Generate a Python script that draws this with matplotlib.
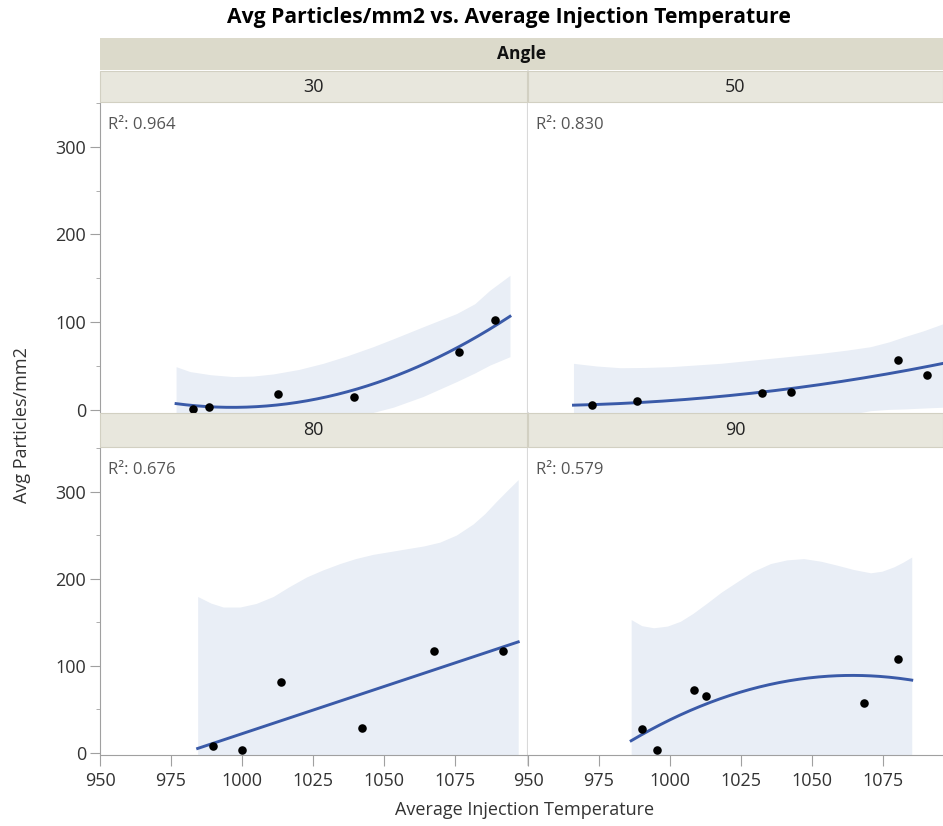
import numpy as np
import matplotlib.pyplot as plt
from matplotlib.patches import Rectangle
from matplotlib.lines import Line2D

plt.rcParams['font.family'] = ['Open Sans', 'DejaVu Sans']

# --------- data -----------------------------
angles = ["30", "50", "80", "90"]
r2_values = ["0.964", "0.830", "0.676", "0.579"]
fit_degree = [2, 2, 1, 2]

temp_30 = [982.6, 988.4, 1012.6, 1039.4, 1076.4, 1089.2]
part_30 = [0.5, 3.0, 18.5, 15.0, 65.5, 102.0]
temp_50 = [972.5, 988.4, 1032.4, 1042.4, 1080.3, 1090.2]
part_50 = [5.7, 9.5, 19.0, 20.5, 56.8, 39.4]
temp_80 = [989.7, 1000.1, 1013.6, 1042.4, 1067.6, 1092.1]
part_80 = [7.6, 3.0, 81.3, 28.3, 117.0, 117.0]
temp_90 = [990.2, 995.4, 1008.3, 1012.5, 1068.1, 1080.3]
part_90 = [27.2, 3.0, 71.8, 65.0, 57.4, 107.7]

# shaded band edges
band_x_30 = [976.8, 981.7, 989.0, 996.9, 1004.0, 1011.0, 1020.0, 1028.6, 1037.0, 1046.2, 1053.3,
             1063.8, 1075.6, 1082.0, 1087.3, 1094.4]
band_hi_30 = [49.2, 43.6, 40.0, 37.9, 38.5, 40.9, 46.0, 53.0, 61.5, 72.0, 81.0,
              94.7, 109.8, 121.0, 136.4, 153.4]
band_lo_30 = [-45, -40, -36, -32, -28, -25, -20, -14, -9, -3, 3,
              15.2, 32.2, 42.0, 51.0, 60.6]

band_x_50 = [966.0, 974.0, 982.5, 991.0, 1000.1, 1017.7, 1035.3, 1052.9, 1062.0, 1070.5, 1077.0,
             1082.3, 1089.0, 1096.3]
band_hi_50 = [53.0, 50.0, 48.0, 48.3, 49.2, 53.0, 58.7, 64.4, 68.0, 72.0, 77.5,
              83.3, 90.0, 98.5]
band_lo_50 = [-45, -42, -40, -37, -35, -28, -20, -12, -6, -1, 0.5, 1, 2, 3]

band_x_80 = [984.4, 989.0, 993.4, 999.3, 1005.0, 1011.0, 1016.5, 1022.8, 1028.5, 1034.5, 1040.0,
             1046.2, 1052.0, 1058.0, 1064.0, 1069.7, 1075.5, 1081.4, 1085.5, 1089.7, 1093.5, 1097.3]
band_hi_80 = [179.5, 172.0, 167.4, 167.4, 171.5, 179.5, 190.5, 202.0, 210.0, 217.3, 223.0,
              227.9, 231.0, 234.3, 237.5, 241.9, 250.0, 262.7, 274.5, 289.0, 301.5, 313.7]
band_lo_80 = [-170, -160, -150, -140, -135, -130, -125, -120, -115, -110, -105,
              -100, -97, -95, -92, -90, -92, -95, -100, -105, -112, -120]

band_x_90 = [986.3, 990.0, 994.2, 999.0, 1003.6, 1008.0, 1013.0, 1018.0, 1023.6, 1029.0, 1035.3,
             1041.0, 1047.0, 1053.0, 1058.8, 1064.5, 1070.5, 1074.5, 1078.7, 1082.0, 1085.0]
band_hi_90 = [153.0, 146.0, 143.6, 145.5, 151.0, 160.0, 172.0, 184.5, 196.5, 208.0, 217.3,
              221.5, 223.0, 220.0, 215.4, 210.5, 206.7, 208.5, 213.5, 219.0, 224.8]
band_lo_90 = [-130, -120, -110, -100, -90, -85, -80, -75, -70, -65, -60,
              -57, -55, -57, -60, -65, -70, -75, -80, -85, -90]

temps = [temp_30, temp_50, temp_80, temp_90]
parts = [part_30, part_50, part_80, part_90]
band_xs = [band_x_30, band_x_50, band_x_80, band_x_90]
band_his = [band_hi_30, band_hi_50, band_hi_80, band_hi_90]
band_los = [band_lo_30, band_lo_50, band_lo_80, band_lo_90]

# --------- styling ----------
W, H = 943, 826
BAND = "#e9eef6"
LINE = "#3a5aa8"
STRIP1 = "#dcdacb"
STRIP2 = "#e8e7dd"
STRIP_EDGE = "#d2d0c2"
DIVIDER = "#d9d9d9"
AXIS = "#a0a0a0"
TXT = "#333333"

fig = plt.figure(figsize=(W / 100, H / 100), dpi=100)


def frect(x0, y0, x1, y1):
    # pixel box (top-left origin) -> figure fraction rect
    return [x0 / W, 1 - y1 / H, (x1 - x0) / W, (y1 - y0) / H]


cols = [(100, 527), (528, 943)]
rows = [(103, 412), (448, 755)]
xlims = [(950, 1100.4), (950, 1096)]

for i, ang in enumerate(angles):
    r, c = divmod(i, 2)
    ax = fig.add_axes(frect(cols[c][0], rows[r][0], cols[c][1], rows[r][1]))
    ax.set_xlim(*xlims[c])
    ax.set_ylim(-2.5, 350)

    bx = np.array(band_xs[i])
    ax.fill_between(bx, band_los[i], band_his[i], color=BAND, lw=0, zorder=1)

    coef = np.polyfit(temps[i], parts[i], fit_degree[i])
    xs = np.linspace(bx[0], bx[-1], 200)
    ax.plot(xs, np.polyval(coef, xs), color=LINE, lw=2.1, zorder=2)

    ax.scatter(temps[i], parts[i], s=38, color="black", zorder=3, linewidths=0)

    ax.annotate(f"R\u00b2: {r2_values[i]}", xy=(0, 1), xycoords="axes fraction",
                xytext=(8, -22), textcoords="offset pixels", va="center", ha="left",
                fontsize=12, color="#555555")

    for s in ax.spines.values():
        s.set_visible(False)

    # y axis only on left column
    if c == 0:
        ax.spines["left"].set_visible(True)
        ax.spines["left"].set_color(AXIS)
        ax.set_yticks([0, 100, 200, 300])
        ax.set_yticks([50, 150, 250, 350], minor=True)
        ax.tick_params(axis="y", which="major", length=7, color=AXIS, labelsize=13,
                       labelcolor=TXT, pad=3)
        ax.tick_params(axis="y", which="minor", length=3, color=AXIS)
        ax.spines["right"].set_visible(True)
        ax.spines["right"].set_color(DIVIDER)
    else:
        ax.set_yticks([])

    if r == 1:
        ax.spines["bottom"].set_visible(True)
        ax.spines["bottom"].set_color(AXIS)
        ax.set_xticks([950, 975, 1000, 1025, 1050, 1075])
        ax.tick_params(axis="x", length=8, color=AXIS, labelsize=13, labelcolor=TXT, pad=4)
    else:
        ax.set_xticks([])

# --------- strips ----------
top = frect(100, 38, 943, 70)
fig.add_artist(Rectangle((top[0], top[1]), top[2], top[3], transform=fig.transFigure,
                         facecolor=STRIP1, edgecolor="none"))
fig.text((100 + 943) / 2 / W, 1 - 54 / H, "Angle", ha="center", va="center",
         fontsize=12.5, fontweight="bold", color="#111111")

strip_rows = [(71, 102), (413, 447)]
for i, ang in enumerate(angles):
    r, c = divmod(i, 2)
    x0, x1 = cols[c]
    y0, y1 = strip_rows[r]
    rect = frect(x0, y0, x1, y1)
    fig.add_artist(Rectangle((rect[0], rect[1]), rect[2], rect[3], transform=fig.transFigure,
                             facecolor=STRIP2, edgecolor=STRIP_EDGE, lw=0.8))
    fig.text((x0 + x1) / 2 / W, 1 - (y0 + y1) / 2 / H, ang, ha="center", va="center",
             fontsize=13, color="#222222")

# column divider
fig.add_artist(Line2D([527.5 / W, 527.5 / W], [1 - 71 / H, 1 - 765 / H],
                      transform=fig.transFigure, color=DIVIDER, lw=1.2, zorder=0))

# --------- titles ----------
fig.text(509 / W, 1 - 18 / H, "Avg Particles/mm2 vs. Average Injection Temperature",
         ha="center", va="center", fontsize=15.2, fontweight="bold", color="black")
fig.text(525 / W, 1 - 810 / H, "Average Injection Temperature", ha="center", va="center",
         fontsize=13, color=TXT)
fig.text(22 / W, 1 - 425 / H, "Avg Particles/mm2", ha="center", va="center",
         rotation=90, fontsize=13, color=TXT)

fig.savefig("out.png", dpi=100, facecolor="white")
